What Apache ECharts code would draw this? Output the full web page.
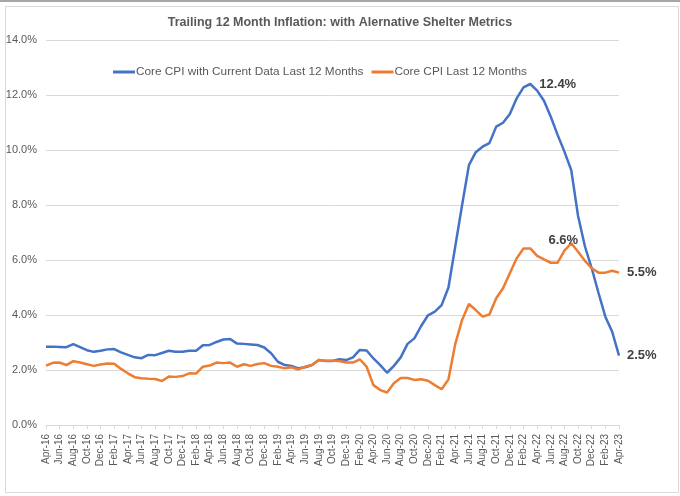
<!DOCTYPE html>
<html>
<head>
<meta charset="utf-8">
<title>Trailing 12 Month Inflation</title>
<script src="https://cdn.jsdelivr.net/npm/echarts@6/dist/echarts.min.js"></script>
<style>
  html, body { margin: 0; padding: 0; background: #fff; }
  #chart { width: 680px; height: 496px; }
</style>
</head>
<body>
<div id="chart"></div>
<script>
// months Apr-16 .. Apr-23
var monthNames = ["Jan", "Feb", "Mar", "Apr", "May", "Jun", "Jul", "Aug", "Sep", "Oct", "Nov", "Dec"];
var categories = [];
for (var k = 0; k < 85; k++) {
  categories.push(monthNames[(3 + k) % 12] + "-" + (16 + Math.floor((3 + k) / 12)));
}

var seriesNames = ["Core CPI with Current Data Last 12 Months", "Core CPI Last 12 Months"];

// Core CPI with current shelter data (%)
var currentData = [
  2.85, 2.85, 2.84, 2.83, 2.94, 2.83, 2.72, 2.66, 2.70, 2.75, 2.76, 2.64,
  2.55, 2.46, 2.43, 2.55, 2.54, 2.62, 2.70, 2.66, 2.66, 2.70, 2.70, 2.90,
  2.91, 3.02, 3.11, 3.13, 2.96, 2.95, 2.93, 2.91, 2.82, 2.61, 2.30, 2.18,
  2.15, 2.06, 2.10, 2.18, 2.36, 2.33, 2.33, 2.39, 2.36, 2.46, 2.73, 2.71,
  2.42, 2.18, 1.90, 2.15, 2.46, 2.95, 3.15, 3.60, 3.99, 4.12, 4.36, 5.00,
  6.50, 8.00, 9.45, 9.92, 10.12, 10.25, 10.85, 10.99, 11.31, 11.88, 12.28, 12.40,
  12.16, 11.79, 11.21, 10.55, 9.94, 9.27, 7.60, 6.50, 5.70, 4.80, 3.94, 3.39,
  2.52
];

// Core CPI (%)
var coreData = [
  2.16, 2.26, 2.27, 2.18, 2.32, 2.27, 2.21, 2.15, 2.20, 2.24, 2.23, 2.04,
  1.88, 1.74, 1.70, 1.68, 1.67, 1.60, 1.76, 1.75, 1.78, 1.88, 1.87, 2.12,
  2.16, 2.27, 2.25, 2.27, 2.12, 2.21, 2.15, 2.22, 2.25, 2.15, 2.12, 2.06,
  2.10, 2.02, 2.12, 2.18, 2.36, 2.34, 2.34, 2.33, 2.27, 2.27, 2.39, 2.12,
  1.45, 1.27, 1.18, 1.52, 1.71, 1.71, 1.64, 1.66, 1.61, 1.45, 1.30, 1.66,
  2.95, 3.82, 4.40, 4.18, 3.94, 4.02, 4.61, 4.97, 5.52, 6.06, 6.42, 6.42,
  6.15, 6.02, 5.90, 5.90, 6.34, 6.61, 6.30, 5.97, 5.70, 5.54, 5.54, 5.61,
  5.54
];

var yTicks = { min: 0, max: 14, interval: 2 };

var chart = echarts.init(document.getElementById("chart"), null, { renderer: "canvas" });

var fontFamily = "'Liberation Sans', Arial, sans-serif";
var gray = "#595959";

function pct(v) {
  return v.toFixed(1) + "%";
}

// index of the max of a series
function peakIndex(arr) {
  var best = 0;
  for (var i = 1; i < arr.length; i++) {
    if (arr[i] > arr[best]) best = i;
  }
  return best;
}

var bluePeak = peakIndex(currentData);
var orangePeak = peakIndex(coreData);

chart.setOption({
  animation: false,
  textStyle: { fontFamily: fontFamily },
  title: {
    text: "Trailing 12 Month Inflation: with Alernative Shelter Metrics",
    left: "center",
    top: 11,
    textStyle: { fontSize: 12.5, fontWeight: "bold", color: gray, fontFamily: fontFamily }
  },
  legend: {
    data: seriesNames,
    left: 108,
    top: 61,
    icon: "rect",
    itemWidth: 22,
    itemHeight: 3,
    itemGap: 8,
    textStyle: { fontSize: 11.8, color: gray, padding: [0, 0, 0, -4] }
  },
  grid: {
    left: 46,
    right: 61,
    top: 40,
    bottom: 71
  },
  xAxis: {
    type: "category",
    data: categories,
    boundaryGap: false,
    axisLine: { lineStyle: { color: "#d9d9d9" } },
    axisTick: { show: true, interval: 1, length: 4, lineStyle: { color: "#d9d9d9" } },
    axisLabel: {
      interval: 1,
      rotate: 90,
      margin: 9,
      fontSize: 10,
      color: gray
    },
    splitLine: { show: false }
  },
  yAxis: {
    type: "value",
    min: yTicks.min,
    max: yTicks.max,
    interval: yTicks.interval,
    axisLine: { show: false },
    axisTick: { show: false },
    axisLabel: {
      fontSize: 11,
      color: gray,
      margin: 9,
      formatter: function (v) { return pct(v); }
    },
    splitLine: { lineStyle: { color: "#d9d9d9", width: 1 } }
  },
  series: [
    {
      name: seriesNames[0],
      type: "line",
      data: currentData,
      showSymbol: false,
      lineStyle: { color: "#4472C4", width: 2.5 },
      itemStyle: { color: "#4472C4" },
      endLabel: {
        show: true,
        distance: 8,
        fontSize: 13,
        fontWeight: "bold",
        color: "#404040",
        formatter: function (p) { return pct(p.value); }
      },
      markPoint: {
        symbol: "circle",
        symbolSize: 0,
        label: {
          show: true,
          position: "right",
          distance: 9,
          fontSize: 13,
          fontWeight: "bold",
          color: "#404040",
          formatter: function (p) { return pct(p.value); }
        },
        data: [{ coord: [bluePeak, currentData[bluePeak]], value: currentData[bluePeak] }]
      }
    },
    {
      name: seriesNames[1],
      type: "line",
      data: coreData,
      showSymbol: false,
      lineStyle: { color: "#ED7D31", width: 2.5 },
      itemStyle: { color: "#ED7D31" },
      endLabel: {
        show: true,
        distance: 8,
        fontSize: 13,
        fontWeight: "bold",
        color: "#404040",
        formatter: function (p) { return pct(p.value); }
      },
      markPoint: {
        symbol: "circle",
        symbolSize: 0,
        label: {
          show: true,
          position: "inside",
          offset: [-8, -3],
          fontSize: 13,
          fontWeight: "bold",
          color: "#404040",
          formatter: function (p) { return pct(p.value); }
        },
        data: [{ coord: [orangePeak, coreData[orangePeak]], value: coreData[orangePeak] }]
      }
    }
  ],
  graphic: [
    // thin dark line along the top of the picture
    { type: "rect", left: 0, top: 0, shape: { width: 680, height: 2 }, style: { fill: "#a6a6a6" }, silent: true },
    // chart area border
    {
      type: "rect",
      left: 3,
      top: 4,
      shape: { width: 673, height: 486 },
      style: { fill: "none", stroke: "#d9d9d9", lineWidth: 1 },
      silent: true,
      z: -1
    }
  ]
});
</script>
</body>
</html>
